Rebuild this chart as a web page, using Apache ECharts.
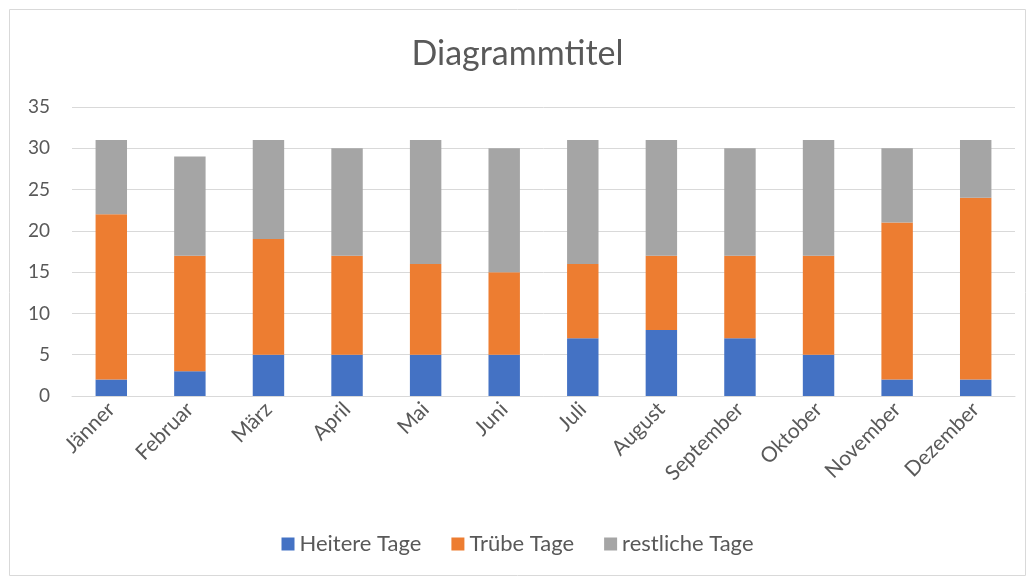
<!DOCTYPE html>
<html><head><meta charset="utf-8">
<script src="https://cdn.jsdelivr.net/npm/echarts@6/dist/echarts.min.js"></script>
<style>html,body{margin:0;padding:0;background:#fff}#c{width:1035px;height:582px}</style>
</head><body><div id="c"></div>
<script>
const categories = ["Jänner","Februar","März","April","Mai","Juni","Juli","August","September","Oktober","November","Dezember"];
const heitere = [2,3,5,5,5,5,7,8,7,5,2,2];
const truebe = [20,14,14,12,11,10,9,9,10,12,19,22];
const restliche = [9,12,12,13,15,15,15,14,13,14,9,7];
const yTicks = [0,5,10,15,20,25,30,35];

const font = 'Lato, "Open Sans", sans-serif';
const chart = echarts.init(document.getElementById('c'));
const mk = (name, data, color) => ({
  name, type: 'bar', stack: 'total', data, barWidth: '40%',
  itemStyle: { color }, emphasis: { disabled: true }
});
chart.setOption({
  animation: false,
  graphic: [{ type: 'rect', shape: { x: 9.5, y: 9.5, width: 1016, height: 566 },
    style: { fill: 'none', stroke: '#d9d9d9', lineWidth: 1 }, z: 100 }],
  title: { text: 'Diagrammtitel', left: 'center', top: 32,
    textStyle: { fontFamily: font, fontSize: 34, fontWeight: 'normal', color: '#595959' } },
  legend: { bottom: 22, left: 'center', itemWidth: 13, itemHeight: 13, itemGap: 30, icon: 'rect',
    textStyle: { fontFamily: font, fontSize: 22, color: '#595959' },
    data: ['Heitere Tage','Trübe Tage','restliche Tage'] },
  grid: { left: 72, right: 20, top: 107, bottom: 186, containLabel: false },
  xAxis: { type: 'category', data: categories,
    axisLine: { lineStyle: { color: '#d9d9d9' } }, axisTick: { show: false },
    axisLabel: { rotate: 45, fontFamily: font, fontSize: 21, color: '#595959', margin: 10, interval: 0 } },
  yAxis: { type: 'value', min: yTicks[0], max: yTicks[yTicks.length-1], interval: 5,
    axisLine: { show: false }, axisTick: { show: false },
    splitLine: { lineStyle: { color: '#d9d9d9', width: 1 } },
    axisLabel: { fontFamily: font, fontSize: 19, color: '#595959', margin: 22 } },
  series: [
    mk('Heitere Tage', heitere, '#4472c4'),
    mk('Trübe Tage', truebe, '#ed7d31'),
    mk('restliche Tage', restliche, '#a5a5a5')
  ]
});
</script></body></html>
